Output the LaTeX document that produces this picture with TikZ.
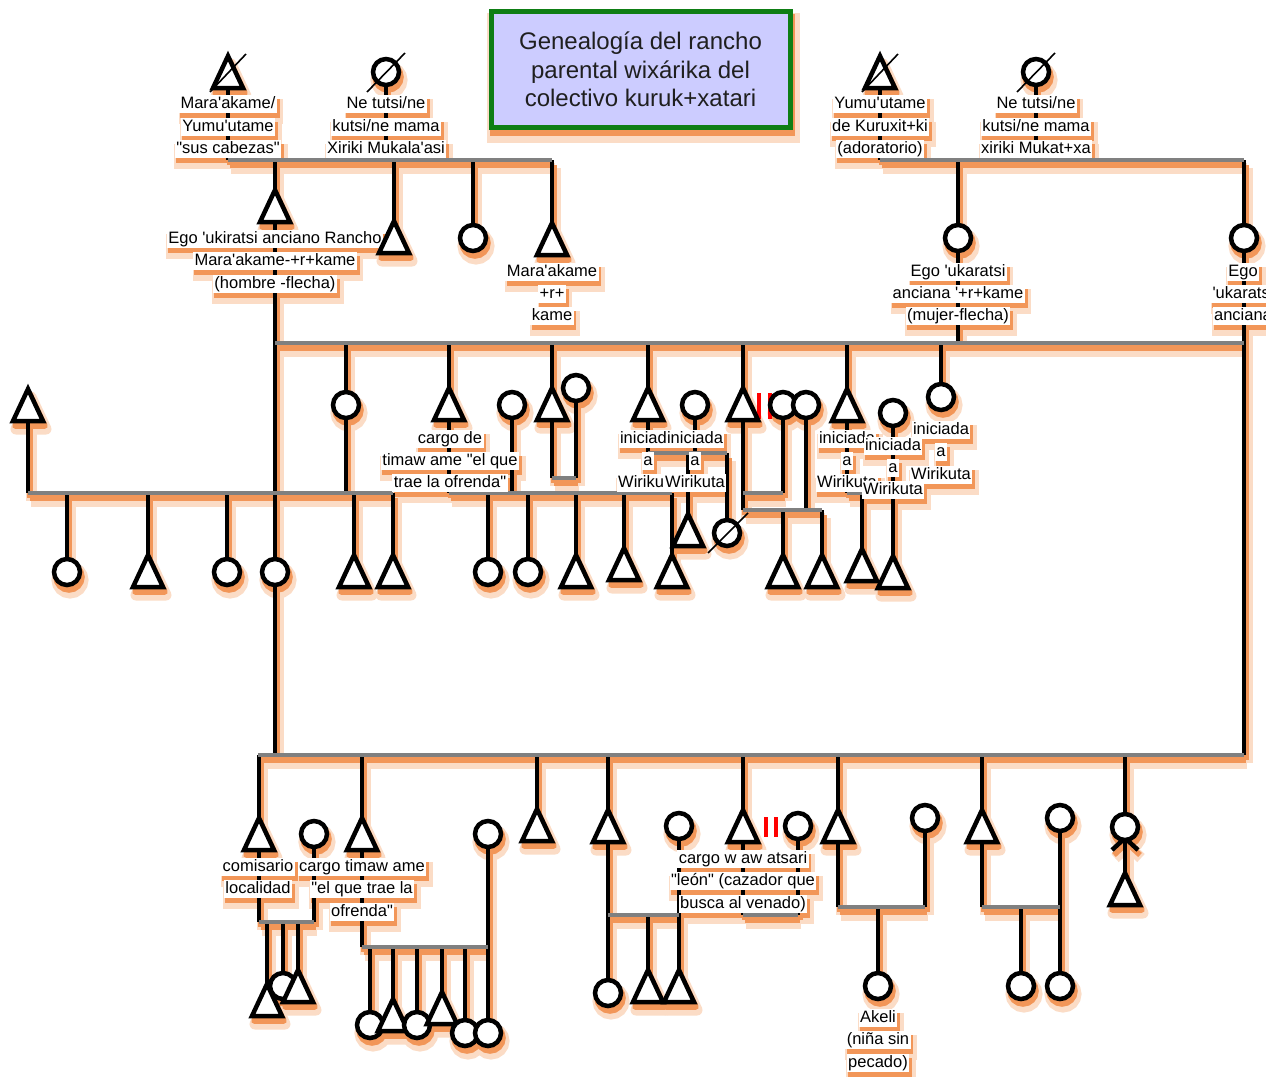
\documentclass[tikz,border=0pt]{standalone}
\usepackage{fontspec}
\setmainfont{Liberation Sans}[Ligatures=TeXOff]
\definecolor{lgray}{RGB}{128,128,128}
\definecolor{tgreen}{RGB}{14,126,20}
\definecolor{lav}{RGB}{204,204,255}
\definecolor{blurc}{RGB}{251,220,198}
\definecolor{corec}{RGB}{242,150,88}
\newcommand\lblfnt{\fontsize{16.5}{18}\selectfont}
\newcommand\ttlfnt{\fontsize{24}{28.5}\selectfont}
\newcommand\ttltext{Genealogía del rancho\\parental wixárika del\\colectivo kuruk+xatari}
\tikzset{
 kin/.style={draw=black, line width=4.5},
 mar/.style={draw=lgray, line width=4.5},
 fem/.style={circle, draw=black, fill=white, line width=4.5, minimum size=26, inner sep=0},
 male/.style={draw=black, fill=white, line width=4.5, line join=miter},
 slash/.style={draw=black, line width=1.6},
 divorce/.style={draw=red, line width=4.5},
 lbl/.style={fill=white, inner xsep=1.5, inner ysep=1, text height=12.5, text depth=3.5, font=\lblfnt, text=black, yshift=-1.5},
 titlebox/.style={draw=tgreen, fill=lav, line width=5, minimum width=299, minimum height=116, inner sep=0, align=center, font=\ttlfnt, text=black!88},
 blurpass/.style={
  kin/.style={draw=blurc, line width=11},
  mar/.style={draw=blurc, line width=11},
  fem/.style={circle, draw=blurc, fill=blurc, line width=11, minimum size=26, inner sep=0},
  male/.style={draw=blurc, fill=blurc, line width=11, line join=round},
  slash/.style={draw=none},
  divorce/.style={draw=none},
  lbl/.style={fill=blurc, draw=blurc, line width=7, inner xsep=1.5, inner ysep=1, text height=12.5, text depth=3.5, font=\lblfnt, yshift=-1.5},
  titlebox/.style={draw=blurc, fill=blurc, line width=14, minimum width=299, minimum height=116, inner sep=0}},
 corepass/.style={
  kin/.style={draw=corec, line width=5.5},
  mar/.style={draw=corec, line width=5.5},
  fem/.style={circle, draw=corec, fill=corec, line width=5.5, minimum size=26, inner sep=0},
  male/.style={draw=corec, fill=corec, line width=5.5, line join=round},
  slash/.style={draw=none},
  divorce/.style={draw=none},
  lbl/.style={fill=corec, draw=corec, line width=1.5, inner xsep=1.5, inner ysep=1, text height=12.5, text depth=3.5, font=\lblfnt, yshift=-1.5},
  titlebox/.style={draw=corec, fill=corec, line width=6, minimum width=299, minimum height=116, inner sep=0}},
}
\newcommand\male[1]{\path[male] ([shift={(0,-16)}]#1) -- ++(15,32) -- ++(-30,0) -- cycle;}
\newcommand\fem[1]{\node[fem] (#1-s) at (#1) {};}
\newcommand\drop[2]{\path[kin] (#1 |- #2) -- (#1);}
\newcommand\lb[3]{\node[lbl] (#1) at (#2) {#3};}
\newcommand\diagram{%
% ---------- symbol positions
\coordinate (gA) at (228,72);
\coordinate (gB) at (386,72);
\coordinate (gC) at (880,72);
\coordinate (gD) at (1036,72);
\coordinate (egoM) at (275,206);
\coordinate (s2) at (394,237);
\coordinate (s3) at (473,238);
\coordinate (s4) at (552,239);
\coordinate (egoF1) at (958,238);
\coordinate (egoF2) at (1244,238);
\coordinate (k1h) at (28,405);
\coordinate (k1) at (346,405);
\coordinate (k2) at (449,404);
\coordinate (k2w) at (512,405);
\coordinate (k3) at (552,404);
\coordinate (k3w) at (576,388);
\coordinate (k4) at (648,404);
\coordinate (k4w) at (695,405);
\coordinate (k5) at (743,404);
\coordinate (k5a) at (783,405);
\coordinate (k5b) at (806,405);
\coordinate (k6) at (847,405);
\coordinate (k6w) at (893,413);
\coordinate (k7) at (941,397);
\coordinate (m1) at (67,572);
\coordinate (m2) at (148,571);
\coordinate (m3) at (227,572);
\coordinate (m4) at (275,572);
\coordinate (m5) at (354,571);
\coordinate (m6) at (393,571);
\coordinate (n1) at (488,572);
\coordinate (n2) at (528,572);
\coordinate (n3) at (576,571);
\coordinate (n4) at (624,564);
\coordinate (n5) at (672,571);
\coordinate (p1) at (688,530);
\coordinate (p2) at (727,533);
\coordinate (q1) at (783,571);
\coordinate (q2) at (822,571);
\coordinate (r1) at (862,565);
\coordinate (r2) at (893,572);
\coordinate (b1) at (259,834);
\coordinate (b1w) at (314,834);
\coordinate (b1c1) at (267,1000);
\coordinate (b1c2) at (283,986);
\coordinate (b1c3) at (298,986);
\coordinate (b2) at (362,834);
\coordinate (b2w) at (488,834);
\coordinate (b2c1) at (370,1025);
\coordinate (b2c2) at (393,1015);
\coordinate (b2c3) at (417,1025);
\coordinate (b2c4) at (442,1008);
\coordinate (b2c5) at (465,1033);
\coordinate (b2c6) at (488,1033);
\coordinate (b3) at (537,825);
\coordinate (b4) at (608,826);
\coordinate (b4w) at (679,826);
\coordinate (b4c1) at (608,993);
\coordinate (b4c2) at (648,986);
\coordinate (b4c3) at (679,986);
\coordinate (b5) at (743,826);
\coordinate (b5w) at (798,826);
\coordinate (b6) at (838,826);
\coordinate (b6w) at (925,818);
\coordinate (b6c) at (878,986);
\coordinate (b7) at (982,826);
\coordinate (b7w) at (1060,818);
\coordinate (b7c1) at (1021,986);
\coordinate (b7c2) at (1060,986);
\coordinate (b8) at (1125,827);
\coordinate (b8c) at (1125,889);
% ---------- union lines
\coordinate (U1a) at (228,160); \coordinate (U1b) at (552,160);
\coordinate (U2a) at (880,160); \coordinate (U2b) at (1244,160);
\coordinate (U3a) at (275,343); \coordinate (U3b) at (1244,343);
\coordinate (U4a) at (258,755); \coordinate (U4b) at (1244,755);
\coordinate (U5a) at (28,493);  \coordinate (U5b) at (393,493);
\coordinate (U6a) at (449,493); \coordinate (U6b) at (672,493);
\coordinate (U7a) at (552,478); \coordinate (U7b) at (576,478);
\coordinate (U8a) at (648,453); \coordinate (U8b) at (727,453);
\coordinate (U9a) at (743,493); \coordinate (U9b) at (783,493);
\coordinate (U10a) at (743,510); \coordinate (U10b) at (822,510);
\coordinate (U11a) at (847,493); \coordinate (U11b) at (862,493);
\coordinate (U12a) at (259,922); \coordinate (U12b) at (314,922);
\coordinate (U13a) at (362,947); \coordinate (U13b) at (488,947);
\coordinate (U14a) at (608,915); \coordinate (U14b) at (679,915);
\coordinate (U15a) at (743,915); \coordinate (U15b) at (798,915);
\coordinate (U16a) at (838,907); \coordinate (U16b) at (925,907);
\coordinate (U17a) at (982,907); \coordinate (U17b) at (1060,907);
% ---------- descent / link lines
\path[kin] (gA) -- (gA |- U1a);
\path[kin] (gB) -- (gB |- U1a);
\path[kin] (egoM |- U1a) -- (egoM) -- (egoM |- U4a);
\drop{s2}{U1a} \drop{s3}{U1a} \drop{s4}{U1a}
\path[kin] (gC) -- (gC |- U2a);
\path[kin] (gD) -- (gD |- U2a);
\path[kin] (egoF1 |- U2a) -- (egoF1) -- (egoF1 |- U3a);
\path[kin] (egoF2 |- U2a) -- (egoF2) -- (egoF2 |- U4a);
\path[kin] (k1 |- U3a) -- (k1) -- (k1 |- U5a);
\path[kin] (k1h) -- (k1h |- U5a);
\path[kin] (k2 |- U3a) -- (k2) -- (k2 |- U6a);
\path[kin] (k2w) -- (k2w |- U6a);
\path[kin] (k3 |- U3a) -- (k3) -- (k3 |- U7a);
\path[kin] (k3w) -- (k3w |- U7a);
\path[kin] (k4 |- U3a) -- (k4) -- (k4 |- U8a);
\path[kin] (k4w) -- (k4w |- U8a);
\path[kin] (k5 |- U3a) -- (k5) -- (k5 |- U10a);
\path[kin] (k5a) -- (k5a |- U9a);
\path[kin] (k5b) -- (k5b |- U10a);
\path[kin] (k6 |- U3a) -- (k6) -- (k6 |- U11a);
\path[kin] (k6w) -- (r2);
\drop{k7}{U3a}
\drop{m1}{U5a} \drop{m2}{U5a} \drop{m3}{U5a} \drop{m5}{U5a} \drop{m6}{U5a}
\drop{n1}{U6a} \drop{n2}{U6a} \drop{n3}{U6a} \drop{n4}{U6a} \drop{n5}{U6a}
\drop{p1}{U8a} \drop{p2}{U8a}
\drop{q1}{U10a} \drop{q2}{U10a}
\drop{r1}{U11a}
\path[kin] (b1 |- U4a) -- (b1) -- (b1 |- U12a);
\path[kin] (b1w) -- (b1w |- U12a);
\drop{b1c1}{U12a} \drop{b1c2}{U12a} \drop{b1c3}{U12a}
\path[kin] (b2 |- U4a) -- (b2) -- (b2 |- U13a);
\path[kin] (b2w) -- (b2c6);
\drop{b2c1}{U13a} \drop{b2c2}{U13a} \drop{b2c3}{U13a} \drop{b2c4}{U13a} \drop{b2c5}{U13a}
\drop{b3}{U4a}
\path[kin] (b4 |- U4a) -- (b4) -- (b4c1);
\path[kin] (b4w) -- (b4c3);
\drop{b4c2}{U14a}
\path[kin] (b5 |- U4a) -- (b5) -- (b5 |- U15a);
\path[kin] (b5w) -- (b5w |- U15a);
\path[kin] (b6 |- U4a) -- (b6) -- (b6 |- U16a);
\path[kin] (b6w) -- (b6w |- U16a);
\drop{b6c}{U16a}
\path[kin] (b7 |- U4a) -- (b7) -- (b7 |- U17a);
\path[kin] (b7w) -- (b7c2);
\drop{b7c1}{U17a}
\path[kin] (b8 |- U4a) -- (b8) -- (b8c);
\path[kin] ([shift={(-13,23)}]b8) -- ([shift={(13,-1)}]b8);
\path[kin] ([shift={(13,23)}]b8) -- ([shift={(-13,-1)}]b8);
% ---------- marriage / sibling lines
\foreach \u in {1,...,17} {\path[mar] (U\u a) -- (U\u b);}
% ---------- divorce marks
\path[divorce] ([shift={(16,-11)}]k5) -- ([shift={(16,15)}]k5);
\path[divorce] ([shift={(27,-11)}]k5) -- ([shift={(27,15)}]k5);
\path[divorce] ([shift={(23,-9)}]b5) -- ([shift={(23,11)}]b5);
\path[divorce] ([shift={(33,-9)}]b5) -- ([shift={(33,11)}]b5);
% ---------- labels
\lb{L1}{228,102}{Mara'akame/}
\lb{L2}{228,125}{Yumu'utame}
\lb{L3}{228,147}{"sus cabezas"}
\lb{L4}{386,102}{Ne tutsi/ne}
\lb{L5}{386,125}{kutsi/ne mama}
\lb{L6}{386,147}{Xiriki Mukala'asi}
\lb{L7}{880,102}{Yumu'utame}
\lb{L8}{880,125}{de Kuruxit+ki}
\lb{L9}{880,147}{(adoratorio)}
\lb{L10}{1036,102}{Ne tutsi/ne}
\lb{L11}{1036,125}{kutsi/ne mama}
\lb{L12}{1036,147}{xiriki Mukat+xa}
\lb{L13}{275,237}{Ego 'ukiratsi anciano Rancho}
\lb{L14}{275,259}{Mara'akame-+r+kame}
\lb{L15}{275,282}{(hombre -flecha)}
\lb{L16}{552,270}{Mara'akame}
\lb{L17}{552,292}{+r+}
\lb{L18}{552,314}{kame}
\lb{L19}{958,270}{Ego 'ukaratsi}
\lb{L20}{958,292}{anciana '+r+kame}
\lb{L21}{958,314}{(mujer-flecha)}
\lb{L22}{1243,270}{Ego}
\lb{L23}{1243,292}{'ukaratsi}
\lb{L24}{1243,314}{anciana}
\lb{L25}{450,437}{cargo de}
\lb{L26}{450,459}{timaw ame "el que}
\lb{L27}{450,481}{trae la ofrenda"}
\lb{L28}{648,437}{iniciada}
\lb{L29}{648,459}{a}
\lb{L30}{648,481}{Wirikuta}
\lb{L31}{695,437}{iniciada}
\lb{L32}{695,459}{a}
\lb{L33}{695,481}{Wirikuta}
\lb{L34}{847,437}{iniciada}
\lb{L35}{847,459}{a}
\lb{L36}{847,481}{Wirikuta}
\lb{L37}{893,444}{iniciada}
\lb{L38}{893,466}{a}
\lb{L39}{893,488}{Wirikuta}
\lb{L40}{941,428}{iniciada}
\lb{L41}{941,450}{a}
\lb{L42}{941,473}{Wirikuta}
\lb{L43}{258,865}{comisario}
\lb{L44}{258,887}{localidad}
\lb{L45}{362,865}{cargo timaw ame}
\lb{L46}{362,887}{"el que trae la}
\lb{L47}{362,910}{ofrenda"}
\lb{L48}{743,857}{cargo w aw atsari}
\lb{L49}{743,879}{"león" (cazador que}
\lb{L50}{743,902}{busca al venado)}
\lb{L51}{878,1016}{Akeli}
\lb{L52}{878,1038}{(niña sin}
\lb{L53}{878,1061}{pecado)}
% ---------- title
\node[titlebox] (title) at (640.5,69.5) {\ttltext};
% ---------- symbols
\male{gA} \fem{gB} \male{gC} \fem{gD}
\male{egoM} \male{s2} \fem{s3} \male{s4} \fem{egoF1} \fem{egoF2}
\male{k1h} \fem{k1} \male{k2} \fem{k2w} \male{k3} \fem{k3w} \male{k4} \fem{k4w}
\male{k5} \fem{k5a} \fem{k5b} \male{k6} \fem{k6w} \fem{k7}
\fem{m1} \male{m2} \fem{m3} \fem{m4} \male{m5} \male{m6}
\fem{n1} \fem{n2} \male{n3} \male{n4} \male{n5}
\male{p1} \fem{p2} \male{q1} \male{q2} \male{r1} \male{r2}
\male{b1} \fem{b1w} \fem{b1c2} \male{b1c3} \male{b1c1}
\male{b2} \fem{b2w} \fem{b2c1} \male{b2c2} \fem{b2c3} \male{b2c4} \fem{b2c5} \fem{b2c6}
\male{b3} \male{b4} \fem{b4w} \fem{b4c1} \male{b4c2} \male{b4c3}
\male{b5} \fem{b5w} \male{b6} \fem{b6w} \fem{b6c}
\male{b7} \fem{b7w} \fem{b7c1} \fem{b7c2} \fem{b8} \male{b8c}
% ---------- deceased slashes
\path[slash] ([shift={(-18,20)}]gA) -- ([shift={(18,-18)}]gA);
\path[slash] ([shift={(-19,20)}]gB) -- ([shift={(19,-19)}]gB);
\path[slash] ([shift={(-18,20)}]gC) -- ([shift={(18,-18)}]gC);
\path[slash] ([shift={(-19,20)}]gD) -- ([shift={(19,-19)}]gD);
\path[slash] ([shift={(-19,20)}]p2) -- ([shift={(21,-20)}]p2);
}
\begin{document}
\begin{tikzpicture}[x=1pt,y=-1pt]
\useasboundingbox (0,0) rectangle (1266,1076);
\fill[white] (0,0) rectangle (1266,1076);
\clip (0,0) rectangle (1266,1076);
\begin{scope}[shift={(3,8)}, blurpass]
 \renewcommand\lb[3]{\node[lbl] (#1) at (#2) {\phantom{#3}};}
 \renewcommand\ttltext{}
 \diagram
\end{scope}
\begin{scope}[shift={(2,5)}, corepass]
 \renewcommand\lb[3]{\node[lbl] (#1) at (#2) {\phantom{#3}};}
 \renewcommand\ttltext{}
 \diagram
\end{scope}
\diagram
\end{tikzpicture}
\end{document}
